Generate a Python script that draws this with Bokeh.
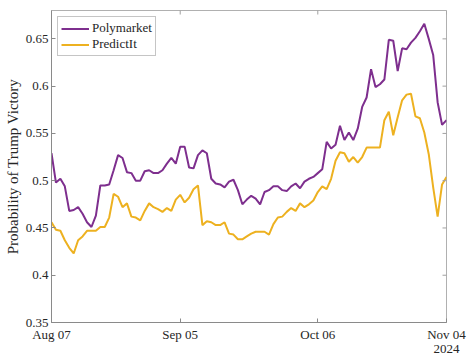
import math
import pandas as pd
from bokeh.plotting import figure
from bokeh.models import Range1d, FixedTicker, DatetimeAxis
from bokeh.embed import file_html
from bokeh.resources import INLINE

# ---- data (daily, Aug 07 .. Nov 04, 2024) ----
dates = pd.date_range("2024-08-07", "2024-11-04", freq="D")

polymarket = [
    0.529, 0.498, 0.502, 0.494, 0.468, 0.469, 0.472, 0.465, 0.456, 0.451,
    0.463, 0.495, 0.495, 0.496, 0.511, 0.527, 0.524, 0.509, 0.508, 0.500,
    0.500, 0.510, 0.511, 0.508, 0.508, 0.511, 0.518, 0.524, 0.518, 0.536,
    0.536, 0.514, 0.513, 0.527, 0.532, 0.529, 0.502, 0.497, 0.496, 0.493,
    0.499, 0.501, 0.490, 0.475, 0.480, 0.484, 0.481, 0.475, 0.488, 0.490,
    0.494, 0.494, 0.490, 0.489, 0.494, 0.497, 0.492, 0.499, 0.502, 0.504,
    0.508, 0.512, 0.541, 0.534, 0.538, 0.558, 0.543, 0.551, 0.543, 0.555,
    0.578, 0.588, 0.618, 0.599, 0.602, 0.607, 0.649, 0.648, 0.616, 0.640,
    0.639, 0.646, 0.651, 0.658, 0.666, 0.650, 0.633, 0.583, 0.559, 0.564,
]

predictit = [
    0.456, 0.448, 0.447, 0.437, 0.429, 0.423, 0.437, 0.441, 0.447, 0.447,
    0.447, 0.451, 0.451, 0.461, 0.486, 0.483, 0.472, 0.476, 0.462, 0.461,
    0.458, 0.468, 0.476, 0.472, 0.470, 0.467, 0.471, 0.468, 0.480, 0.485,
    0.477, 0.482, 0.491, 0.495, 0.453, 0.457, 0.456, 0.453, 0.453, 0.456,
    0.444, 0.443, 0.438, 0.438, 0.441, 0.444, 0.446, 0.446, 0.446, 0.443,
    0.454, 0.461, 0.462, 0.467, 0.471, 0.468, 0.476, 0.472, 0.475, 0.479,
    0.488, 0.494, 0.491, 0.502, 0.521, 0.530, 0.529, 0.520, 0.525, 0.519,
    0.525, 0.535, 0.535, 0.535, 0.535, 0.564, 0.573, 0.548, 0.567, 0.585,
    0.591, 0.592, 0.568, 0.566, 0.551, 0.528, 0.493, 0.462, 0.496, 0.504,
]

y_min, y_max = 0.35, 0.68
y_ticks = [0.35, 0.4, 0.45, 0.5, 0.55, 0.6, 0.65]
y_tick_labels = ["0.35", "0.4", "0.45", "0.5", "0.55", "0.6", "0.65"]
x_tick_dates = ["2024-08-07", "2024-09-05", "2024-10-06", "2024-11-04"]
x_tick_labels = ["Aug 07", "Sep 05", "Oct 06", "Nov 04"]
year_label = "2024"

series_names = ["Polymarket", "PredictIt"]
series_colors = ["#7E2F8E", "#EDB120"]

FONT = "Liberation Serif"
TEXT = "#262626"
AX = "#8a8a8a"

x_ts = [pd.Timestamp(d) for d in x_tick_dates]
x_tick_ms = [float(t.value // 10**6) for t in x_ts]

p = figure(
    width=474, height=357,
    x_axis_type="datetime",
    x_range=Range1d(x_ts[0], x_ts[-1]),
    y_range=Range1d(y_min, y_max),
    output_backend="svg", toolbar_location=None,
    min_border_left=51, min_border_right=28, min_border_top=10, min_border_bottom=35,
)
p.grid.visible = False
p.background_fill_color = "white"
p.outline_line_color = "#b0b0b0"
p.outline_line_width = 1

for vals, name, col in zip([polymarket, predictit], series_names, series_colors):
    p.line(dates, vals, line_color=col, line_width=2, legend_label=name)

# mirrored inward tick marks on top and right edges (box on)
p.scatter(x=x_ts, y=[y_max] * len(x_ts), marker="dash", size=8, angle=math.pi / 2,
          line_color="#a0a0a0", line_width=1)
p.scatter(x=[x_ts[-1]] * len(y_ticks), y=y_ticks, marker="dash", size=8,
          line_color="#a0a0a0", line_width=1)

# bottom axis
xa = p.xaxis[0]
xa.ticker = FixedTicker(ticks=x_tick_ms)
xa.major_label_overrides = dict(zip(x_tick_ms, x_tick_labels))
# left axis
ya = p.yaxis[0]
ya.ticker = FixedTicker(ticks=y_ticks)
ya.major_label_overrides = dict(zip(y_ticks, y_tick_labels))
ya.axis_label = "Probability of Trump Victory"

for ax in (xa, ya):
    ax.axis_line_color = AX
    ax.major_tick_line_color = AX
    ax.major_tick_in = 4
    ax.major_tick_out = 0
    ax.minor_tick_line_color = None
    ax.major_label_text_font = FONT
    ax.major_label_text_font_size = "13px"
    ax.major_label_text_color = TEXT
    ax.major_label_standoff = 3

ya.axis_label_text_font = FONT
ya.axis_label_text_font_size = "15px"
ya.axis_label_text_font_style = "normal"
ya.axis_label_text_color = TEXT
ya.axis_label_standoff = 2
xa.major_label_standoff = 4

# year context line under the last date tick
ctx = DatetimeAxis(ticker=FixedTicker(ticks=[x_tick_ms[-1]]),
                   major_label_overrides={x_tick_ms[-1]: year_label})
ctx.axis_line_color = None
ctx.major_tick_line_color = None
ctx.minor_tick_line_color = None
ctx.major_tick_in = 0
ctx.major_tick_out = 0
ctx.major_label_standoff = 0
ctx.major_label_text_font = FONT
ctx.major_label_text_font_size = "13px"
ctx.major_label_text_color = TEXT
ctx.major_label_text_align = "right"
p.add_layout(ctx, "below")

lg = p.legend[0]
lg.location = "top_left"
lg.margin = 6
lg.padding = 3
lg.spacing = 0
lg.glyph_width = 28
lg.glyph_height = 13
lg.label_height = 13
lg.label_standoff = 3
lg.label_text_font = FONT
lg.label_text_font_size = "13px"
lg.label_text_color = TEXT
lg.border_line_color = "#8c8c8c"
lg.border_line_width = 1
lg.background_fill_alpha = 1.0

open("out.html", "w").write(file_html(p, INLINE))
